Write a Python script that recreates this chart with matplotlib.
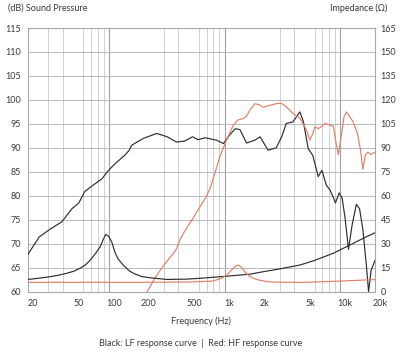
import matplotlib.pyplot as plt
import matplotlib.transforms as mtransforms
from matplotlib.ticker import FixedLocator, NullFormatter

plt.rcParams['font.family'] = ['Lato', 'DejaVu Sans']

# LF driver, sound pressure (black, left axis)
lf_spl_freq = [20, 25, 31, 36, 39, 42, 48, 55, 62, 73, 87, 97, 108, 117, 128, 138, 150, 157, 175, 200,
               260, 320, 384, 450, 530, 590, 680, 850, 980, 1100, 1240, 1360, 1550, 1830, 2030, 2380,
               2800, 3120, 3420, 3900, 4480, 4800, 5300, 5800, 6460, 6950, 7600, 8200, 8700, 9100,
               9800, 10400, 11000, 11800, 12700, 13800, 14700, 15700, 16800, 17600, 18500, 20000]
lf_spl_db = [67.8, 71.4, 73.0, 74.0, 74.5, 75.5, 77.3, 78.5, 80.9, 82.2, 83.5, 85.0, 86.2, 87.0, 87.8, 88.5,
             89.5, 90.5, 91.2, 92.0, 93.0, 92.3, 91.2, 91.4, 92.3, 91.7, 92.1, 91.6, 90.9, 92.6, 94.0, 93.8,
             91.0, 91.6, 92.3, 89.5, 90.0, 92.3, 95.1, 95.4, 97.5, 95.5, 89.8, 88.4, 84.0, 85.3, 82.2, 81.1,
             79.7, 78.5, 80.6, 79.5, 75.5, 68.8, 74.0, 78.2, 77.3, 73.0, 65.8, 60.0, 64.4, 66.5]

# HF driver, sound pressure (red, left axis)
hf_spl_freq = [215, 250, 294, 330, 360, 384, 410, 450, 502, 550, 600, 680, 750, 800, 910, 1040, 1190, 1300,
               1450, 1550, 1660, 1830, 2000, 2150, 2500, 2900, 3150, 3420, 3900, 4480, 5120, 5470, 5800,
               6040, 6460, 7000, 7380, 8000, 8720, 9330, 9650, 10300, 10800, 11300, 12900, 14100, 15000,
               15700, 16500, 17400, 18500, 20000]
hf_spl_db = [60.0, 62.8, 65.3, 66.8, 67.9, 68.9, 70.7, 72.5, 74.3, 75.8, 77.3, 79.4, 81.5, 83.6, 88.1, 91.6,
             94.7, 95.8, 96.1, 96.6, 97.9, 99.2, 99.0, 98.5, 98.9, 99.3, 99.2, 98.6, 97.2, 96.2, 93.7, 91.6,
             93.0, 94.4, 94.0, 94.5, 95.1, 94.8, 94.5, 90.2, 88.6, 93.0, 96.5, 97.5, 95.5, 93.0, 89.5, 85.5,
             88.5, 89.1, 88.6, 89.1]

# impedance curves (right axis)
lf_imp_freq = [20, 25, 31, 37, 43, 50, 56, 63, 69, 77, 84, 90, 94, 100, 106, 113, 120, 133, 150, 165,
               192, 230, 316, 470, 610, 1000, 1660, 2150, 3000, 4480, 6000, 8720, 12100, 16800, 20000]
lf_imp_ohm = [7.6, 8.4, 9.3, 10.3, 11.4, 12.8, 14.5, 16.8, 19.7, 24.0, 28.0, 33.0, 35.8, 34.5, 31.0, 24.5,
              20.5, 16.6, 13.0, 11.3, 9.4, 8.6, 7.6, 7.8, 8.3, 9.5, 10.9, 12.4, 14.2, 16.6, 19.5, 24.0,
              29.1, 34.3, 36.8]
hf_imp_freq = [20, 200, 500, 800, 950, 1050, 1150, 1250, 1320, 1400, 1500, 1650, 1800, 2030, 2500, 3500,
               5000, 8000, 12000, 20000]
hf_imp_ohm = [5.8, 5.8, 6.0, 6.6, 8.5, 10.5, 13.5, 16.0, 16.6, 15.2, 12.4, 9.5, 8.2, 7.0, 6.0, 5.8, 5.8,
              6.3, 6.8, 7.5]

x_ticks = [20, 50, 100, 200, 500, 1000, 2000, 5000, 10000, 20000]
x_tick_labels = ['20', '50', '100', '200', '500', '1k', '2k', '5k', '10k', '20k']
spl_ticks = list(range(60, 116, 5))
imp_ticks = list(range(0, 166, 15))

black = '#2e2e2e'
red = '#e2806a'
txt = '#3a3a3a'

fig = plt.figure(figsize=(4, 3.53), dpi=100)
ax = fig.add_axes([0.07, 0.174, 0.8675, 0.7466])
ax.set_xscale('log')
ax.set_xlim(20, 20000)
ax.set_ylim(60, 115)

# grid: every 1-2-...-9 line light, decades darker
minor = [m * d for d in (10, 100, 1000, 10000) for m in range(1, 10) if 20 <= m * d <= 20000]
ax.xaxis.set_minor_locator(FixedLocator(minor))
ax.xaxis.set_minor_formatter(NullFormatter())
ax.set_xticks(x_ticks)
ax.set_xticklabels(x_tick_labels)
ax.set_yticks(spl_ticks)
ax.grid(which='minor', axis='x', color='#d0d0d0', linewidth=0.7)
ax.grid(which='major', axis='y', color='#b8b8b8', linewidth=0.7)
for d in (100, 1000, 10000):
    ax.axvline(d, color='#a0a0a0', linewidth=0.8, zorder=0.5)
ax.tick_params(which='both', length=0, labelsize=6.5, colors=txt, pad=5)
for s in ax.spines.values():
    s.set_color('#a8a8a8')
    s.set_linewidth(0.8)

shift = mtransforms.ScaledTranslation(5 / 100, 0, fig.dpi_scale_trans)
for lab in ax.get_xticklabels():
    lab.set_transform(lab.get_transform() + shift)

ax.plot(lf_spl_freq, lf_spl_db, color=black, linewidth=0.85, zorder=3)
ax.plot(hf_spl_freq, hf_spl_db, color=red, linewidth=0.85, zorder=3)

ax2 = ax.twinx()
ax2.set_ylim(0, 165)
ax2.set_yticks(imp_ticks)
ax2.tick_params(length=0, labelsize=6.5, colors=txt, pad=4)
for s in ax2.spines.values():
    s.set_visible(False)
ax2.plot(lf_imp_freq, lf_imp_ohm, color=black, linewidth=0.85, zorder=3)
ax2.plot(hf_imp_freq, hf_imp_ohm, color=red, linewidth=0.85, zorder=3)

fig.text(8 / 400, 1 - 8 / 353, '(dB) Sound Pressure', fontsize=6.5, color=txt, va='center', ha='left')
fig.text(387 / 400, 1 - 8 / 353, 'Impedance (\u03a9)', fontsize=6.5, color=txt, va='center', ha='right')
fig.text(201 / 400, 1 - 321 / 353, 'Frequency (Hz)', fontsize=6.5, color=txt, va='center', ha='center')
fig.text(201 / 400, 1 - 343 / 353, 'Black: LF response curve  |  Red: HF response curve',
         fontsize=6.5, color=txt, va='center', ha='center')

fig.savefig('out.png', dpi=100, facecolor='white')
